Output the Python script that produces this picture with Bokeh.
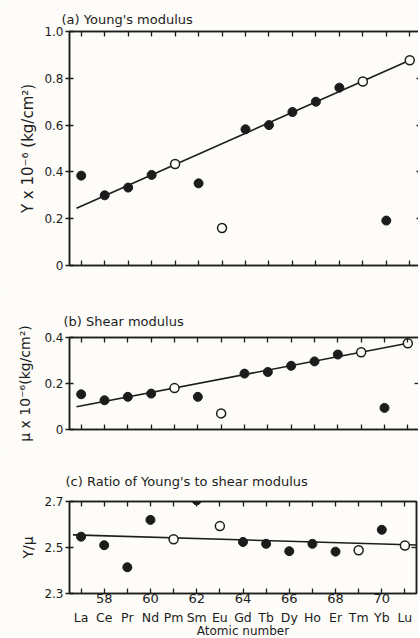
from bokeh.plotting import figure
from bokeh.models import LinearAxis, FixedTicker, Range1d
from bokeh.layouts import column
from bokeh.embed import file_html
from bokeh.resources import INLINE

# ---------------- data ----------------
atomic_number = [57, 58, 59, 60, 61, 62, 63, 64, 65, 66, 67, 68, 69, 70, 71]
elements = ["La", "Ce", "Pr", "Nd", "Pm", "Sm", "Eu", "Gd", "Tb", "Dy", "Ho", "Er", "Tm", "Yb", "Lu"]
# open circles = estimated values
estimated = [False, False, False, False, True, False, True, False, False, False, False, False, True, False, True]

young = [0.384, 0.300, 0.333, 0.387, 0.434, 0.351, 0.160, 0.582, 0.600, 0.656, 0.700, 0.760, 0.786, 0.192, 0.877]
shear = [0.153, 0.127, 0.142, 0.156, 0.180, 0.142, 0.070, 0.243, 0.250, 0.277, 0.296, 0.326, 0.336, 0.094, 0.375]
ratio = [2.547, 2.510, 2.414, 2.620, 2.536, 2.705, 2.593, 2.524, 2.516, 2.484, 2.516, 2.482, 2.488, 2.577, 2.509]

young_fit_x = [56.8, 71.0]
young_fit_y = [0.245, 0.877]
shear_fit_x = [56.8, 71.0]
shear_fit_y = [0.099, 0.375]
ratio_fit_x = [56.65, 71.5]
ratio_fit_y = [2.555, 2.511]

young_ticks = [0.0, 0.2, 0.4, 0.6, 0.8, 1.0]
young_tick_labels = ["0", "0.2", "0.4", "0.6", "0.8", "1.0"]
shear_ticks = [0.0, 0.2, 0.4]
shear_tick_labels = ["0", "0.2", "0.4"]
ratio_ticks = [2.3, 2.5, 2.7]
ratio_tick_labels = ["2.3", "2.5", "2.7"]
number_ticks = [58, 60, 62, 64, 66, 68, 70]
number_labels = ["58", "60", "62", "64", "66", "68", "70"]

# ---------------- style ----------------
INK = "#1c1c1c"
BG = "#fdfcf8"
FONT = "DejaVu Sans"
X_START, X_END = 56.5, 71.5
TOTAL_W = 418


def ticks_only_axis(ticks, tick_in=5):
    return LinearAxis(ticker=FixedTicker(ticks=ticks), major_tick_in=tick_in, major_tick_out=0,
                      minor_tick_line_color=None, axis_line_color=INK, axis_line_width=1.5,
                      major_tick_line_color=INK, major_tick_line_width=1.3,
                      major_label_text_font_size="1px", major_label_text_color=None,
                      major_label_standoff=0)


def make_panel(y, fit_x, fit_y, y_start, y_end, yticks, ytick_labels, ylabel,
               frame_left, frame_w, frame_h, b_top, b_bottom, title,
               title_offset, title_standoff, ylabel_size, ylabel_standoff, right_ticks,
               show_x_labels=False):
    p = figure(frame_width=frame_w, frame_height=frame_h,
               x_range=Range1d(X_START, X_END), y_range=Range1d(y_start, y_end),
               output_backend="svg", toolbar_location=None, title=title,
               x_axis_location=None,
               min_border_left=frame_left,
               min_border_right=TOTAL_W - frame_left - frame_w,
               min_border_top=b_top, min_border_bottom=b_bottom,
               background_fill_color=BG, border_fill_color=BG)
    p.grid.visible = False
    p.outline_line_color = INK
    p.outline_line_width = 1.5

    p.title.align = "left"
    p.title.offset = title_offset
    p.title.standoff = title_standoff
    p.title.text_font = FONT
    p.title.text_font_size = "13px"
    p.title.text_font_style = "normal"
    p.title.text_color = INK

    # left axis
    ya = p.yaxis[0]
    ya.ticker = FixedTicker(ticks=yticks)
    ya.major_label_overrides = {t: l for t, l in zip(yticks, ytick_labels)}
    ya.major_tick_in = 4
    ya.major_tick_out = 4
    ya.minor_tick_line_color = None
    ya.major_label_standoff = 2
    ya.major_label_text_font = FONT
    ya.major_label_text_font_size = "12px"
    ya.major_label_text_color = INK
    ya.axis_line_color = INK
    ya.axis_line_width = 1.5
    ya.major_tick_line_color = INK
    ya.major_tick_line_width = 1.3
    ya.axis_label = ylabel
    ya.axis_label_text_font = FONT
    ya.axis_label_text_font_size = ylabel_size
    ya.axis_label_text_font_style = "normal"
    ya.axis_label_text_color = INK
    ya.axis_label_standoff = ylabel_standoff

    # bottom axis: integer ticks pointing inward
    p.add_layout(ticks_only_axis(atomic_number), "below")
    if show_x_labels:
        num_axis = LinearAxis(ticker=FixedTicker(ticks=number_ticks),
                              major_label_overrides={n: s for n, s in zip(number_ticks, number_labels)},
                              axis_line_color=None, major_tick_line_color=None,
                              minor_tick_line_color=None, major_tick_in=0, major_tick_out=0,
                              major_label_standoff=0, major_label_text_font=FONT,
                              major_label_text_font_size="13px", major_label_text_color=INK)
        p.add_layout(num_axis, "below")
        el_axis = LinearAxis(ticker=FixedTicker(ticks=atomic_number),
                             major_label_overrides={n: s for n, s in zip(atomic_number, elements)},
                             axis_line_color=None, major_tick_line_color=None,
                             minor_tick_line_color=None, major_tick_in=0, major_tick_out=0,
                             major_label_standoff=4, major_label_text_font=FONT,
                             major_label_text_font_size="12.5px", major_label_text_color=INK,
                             axis_label="Atomic number", axis_label_standoff=-4,
                             axis_label_text_font=FONT, axis_label_text_font_size="12px",
                             axis_label_text_font_style="normal", axis_label_text_color=INK)
        p.add_layout(el_axis, "below")

    # top and right axes (ticks only)
    p.add_layout(ticks_only_axis(atomic_number), "above")
    p.add_layout(ticks_only_axis(right_ticks), "right")

    # fit line
    p.line(fit_x, fit_y, line_color=INK, line_width=1.6)

    # points
    fx = [x for x, e in zip(atomic_number, estimated) if not e]
    fy = [v for v, e in zip(y, estimated) if not e]
    ox = [x for x, e in zip(atomic_number, estimated) if e]
    oy = [v for v, e in zip(y, estimated) if e]
    p.scatter(fx, fy, size=9, fill_color=INK, line_color=INK, line_width=1)
    p.scatter(ox, oy, size=9, fill_color=BG, line_color=INK, line_width=1.5)
    return p


pa = make_panel(young, young_fit_x, young_fit_y, 0.0, 1.0, young_ticks, young_tick_labels,
                "Y x 10⁻⁶ (kg/cm²)", 61, 352, 234, 31, 24, "(a) Young's modulus",
                -8, 9, "15px", 4, [0.2, 0.4, 0.6, 0.8])
pb = make_panel(shear, shear_fit_x, shear_fit_y, 0.0, 0.4, shear_ticks, shear_tick_labels,
                "μ x 10⁻⁶(kg/cm²)", 66, 350, 92, 48, 25, "(b) Shear modulus",
                -6, 17, "14px", 8, [0.2])
pc = make_panel(ratio, ratio_fit_x, ratio_fit_y, 2.3, 2.7, ratio_ticks, ratio_tick_labels,
                "Y/μ", 69, 347, 92, 47, 42, "(c) Ratio of Young's to shear modulus",
                -4, 26, "14px", 5, [2.5], show_x_labels=True)

layout = column(pa, pb, pc, spacing=0)
open("out.html", "w").write(file_html(layout, INLINE))
